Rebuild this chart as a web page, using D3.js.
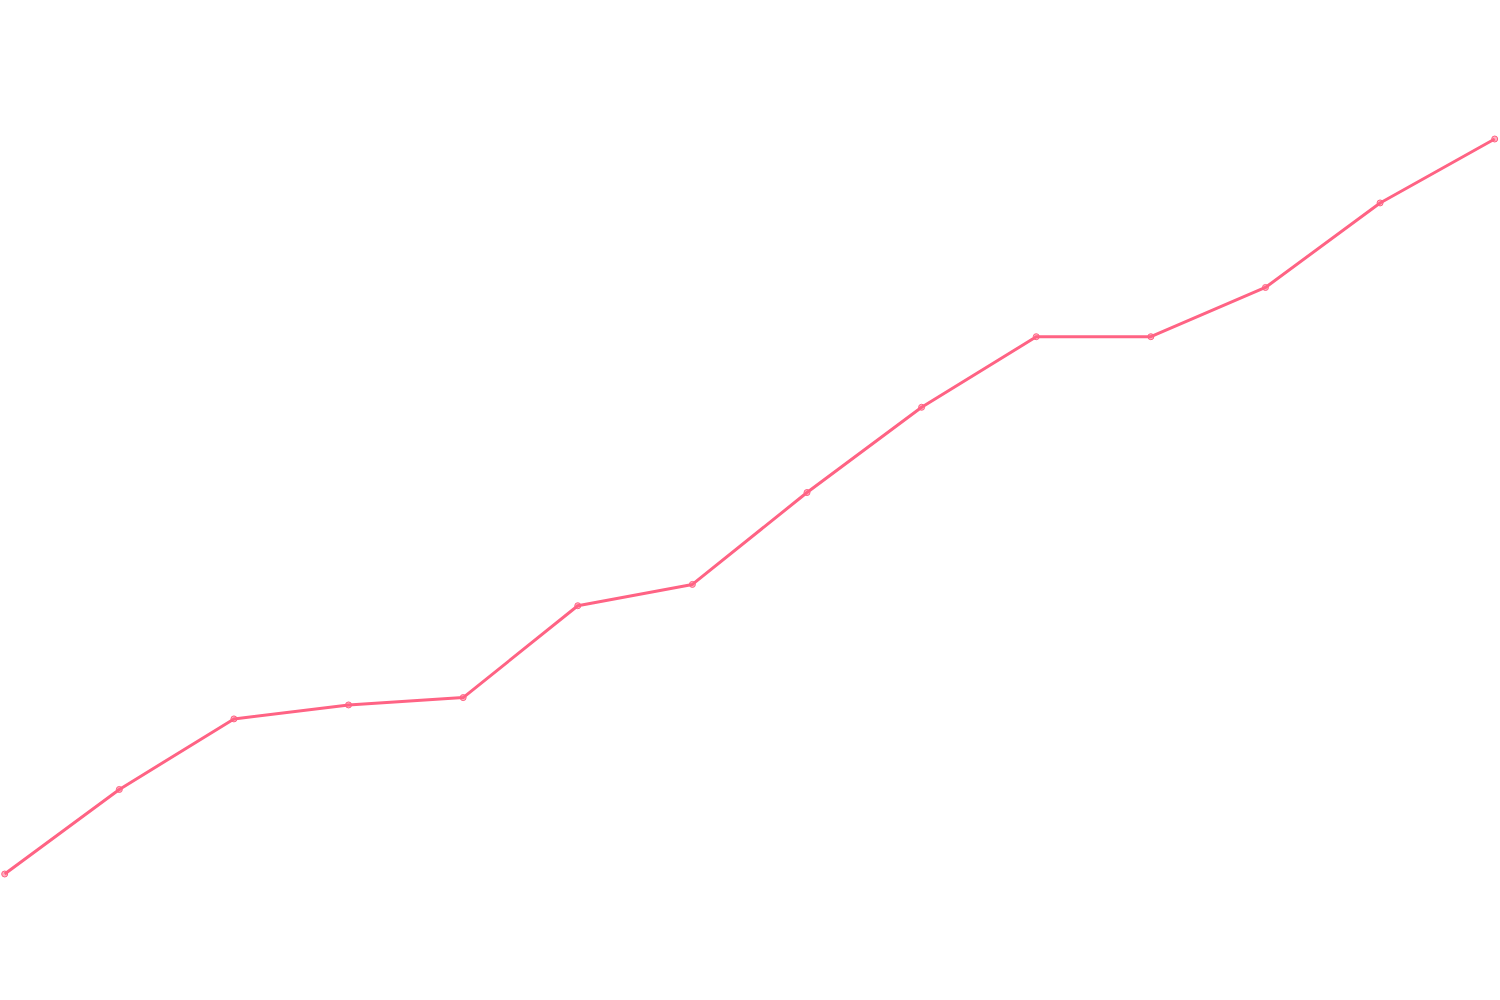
<!DOCTYPE html>
<html>
<head>
<meta charset="utf-8">
<style>
  html, body { margin: 0; padding: 0; background: #fff; }
  svg { display: block; }
</style>
<script src="https://cdn.jsdelivr.net/npm/d3@7"></script>
</head>
<body>
<div id="root"></div>
<script>
// values (no axes shown, so the scale is relative)
const categories = ['1', '2', '3', '4', '5', '6', '7', '8', '9', '10', '11', '12', '13', '14'];
const values = [0, 11.5, 21.1, 23.0, 24.0, 36.5, 39.4, 51.9, 63.5, 73.1, 73.1, 79.8, 91.3, 100];

const svgWidth = 1500;
const svgHeight = 1000;
const margin = { top: 139, right: 5.3, bottom: 126, left: 4.7 };

const svg = d3.select('#root').append('svg')
  .attr('width', svgWidth)
  .attr('height', svgHeight);

const xScale = d3.scalePoint()
  .domain(categories)
  .range([margin.left, svgWidth - margin.right]);

const yScale = d3.scaleLinear()
  .domain([0, 100])
  .range([svgHeight - margin.bottom, margin.top]);

const data = categories.map((c, i) => ({ cat: c, value: values[i] }));

const line = d3.line()
  .x(d => xScale(d.cat))
  .y(d => yScale(d.value));

svg.append('path')
  .datum(data)
  .attr('fill', 'none')
  .attr('stroke', '#ff6384')
  .attr('stroke-width', 3)
  .attr('stroke-linejoin', 'round')
  .attr('d', line);

svg.selectAll('circle')
  .data(data)
  .enter()
  .append('circle')
  .attr('cx', d => xScale(d.cat))
  .attr('cy', d => yScale(d.value))
  .attr('r', 3)
  .attr('fill', 'rgba(255, 99, 132, 0.5)')
  .attr('stroke', '#ff6384')
  .attr('stroke-width', 1);
</script>
</body>
</html>
